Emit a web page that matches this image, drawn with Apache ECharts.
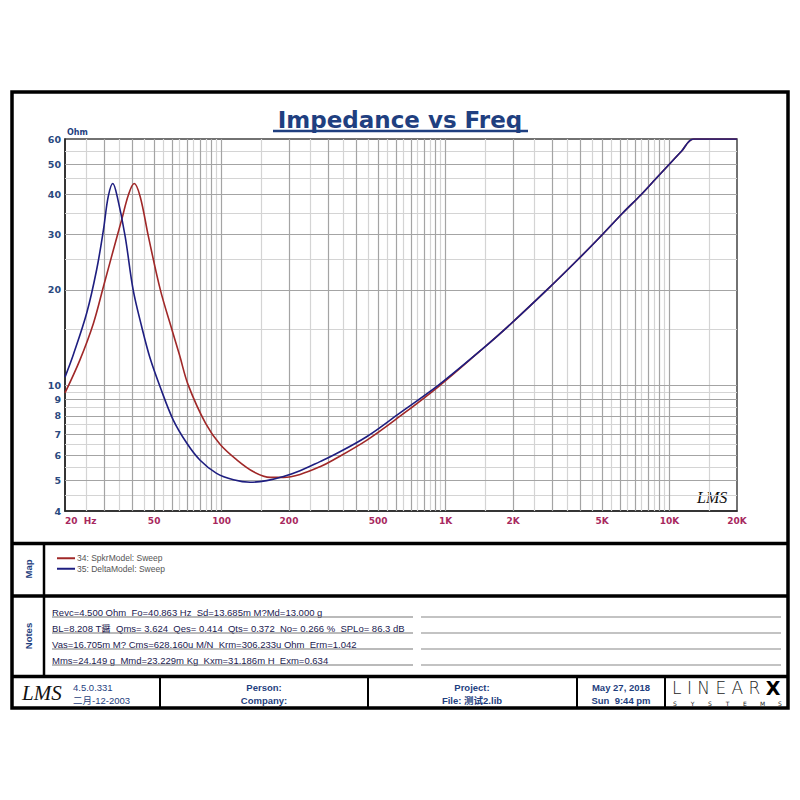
<!DOCTYPE html>
<html><head><meta charset="utf-8">
<script src="https://cdn.jsdelivr.net/npm/echarts@6/dist/echarts.min.js"></script>
<style>html,body{margin:0;padding:0;background:#fff}#c{width:800px;height:800px}</style>
</head><body><div id="c"></div>
<script>
// ---- data ----
const freqSpkr = [20, 23.3, 26.8, 29.7, 32.9, 35.8, 38.4, 40.7, 43.3, 47.1, 53.3, 60, 65, 71, 85, 98.4, 117, 139, 165, 189, 224, 275, 315, 444, 624, 930, 1422, 1838, 2834, 3908, 5030, 6180, 7460, 8700, 10000, 11330, 12800, 20000];
const zSpkr    = [9.45, 12.0, 15.7, 20.5, 26.8, 33.3, 40.0, 43.4, 39.5, 29.6, 20.0, 15.0, 12.4, 10.0, 7.55, 6.5, 5.8, 5.32, 5.11, 5.11, 5.22, 5.52, 5.80, 6.69, 7.96, 9.9, 12.8, 15, 20, 25, 30, 35, 40, 45, 50, 55, 60, 60];
const freqDelta = [20, 21.8, 25.0, 27.7, 29.7, 31.2, 32.7, 34.2, 37.1, 40.3, 44.0, 47.9, 53.1, 60.8, 70, 80, 95, 113, 134, 159, 189, 224, 275, 315, 444, 624, 930, 1422, 1838, 2834, 3908, 5030, 6180, 7460, 8700, 10000, 11330, 12800, 20000];
const zDelta    = [10.6, 12.5, 16.9, 23.2, 31.0, 39.5, 43.4, 39.5, 29.6, 20.0, 15.3, 12.2, 9.9, 7.77, 6.55, 5.8, 5.26, 5.02, 4.93, 4.99, 5.14, 5.36, 5.73, 6.0, 6.87, 8.16, 10.0, 12.8, 15, 20, 25, 30, 35, 40, 45, 50, 55, 60, 60];
const seriesNames = ['34: SpkrModel: Sweep', '35: DeltaModel: Sweep'];

const xTickValues = [20, 50, 100, 200, 500, 1000, 2000, 5000, 10000, 20000];
const xTickLabels = ['20  Hz', '50', '100', '200', '500', '1K', '2K', '5K', '10K', '20K'];
const yTickValues = [4, 5, 6, 7, 8, 9, 10, 20, 30, 40, 50, 60];

const xMajorGrid = [30, 40, 50, 60, 70, 80, 90, 100, 200, 300, 400, 500, 600, 700, 800, 900, 1000, 2000, 3000, 4000, 5000, 6000, 7000, 8000, 9000, 10000];
const xMinorGrid = [25, 35, 45, 55, 65, 75, 85, 95, 150, 250, 350, 450, 550, 650, 750, 850, 950, 1500, 2500, 3500, 4500, 5500, 6500, 7500, 8500, 9500, 15000];
const yMajorGrid = [5, 6, 7, 8, 9, 10, 20, 30, 40, 50];
const yMinorGrid = [4.5, 5.5, 6.5, 7.5, 8.5, 9.5, 15, 25, 35, 45, 55];

const notesLines = [
  'Revc=4.500 Ohm  Fo=40.863 Hz  Sd=13.685m M?Md=13.000 g',
  'BL=8.208 T醤  Qms= 3.624  Qes= 0.414  Qts= 0.372  No= 0.266 %  SPLo= 86.3 dB',
  'Vas=16.705m M? Cms=628.160u M/N  Krm=306.233u Ohm  Erm=1.042',
  'Mms=24.149 g  Mmd=23.229m Kg  Kxm=31.186m H  Exm=0.634'
];
const footerVersion = ['4.5.0.331', '二月-12-2003'];
const footerPerson = ['Person:', 'Company:'];
const footerProject = ['Project:', 'File: 测试2.lib'];
const footerDate = ['May 27, 2018', 'Sun  9:44 pm'];

// ---- build ----
const FONT = '"Liberation Sans", "Noto Sans CJK SC", sans-serif';
const BLUE_TXT = '#1f3f80';
const pairs = (xs, ys) => xs.map((x, i) => [x, ys[i]]);

function gridLines(vals, key, color, w) {
  return vals.map(v => ({ [key]: v, lineStyle: { color: color, width: w, type: 'solid' } }));
}
function nearestLabel(v) {
  let best = 0, bd = Infinity;
  xTickValues.forEach((t, i) => { const d = Math.abs(Math.log(v) - Math.log(t)); if (d < bd) { bd = d; best = i; } });
  return xTickLabels[best];
}

const graphics = [];
graphics.push({ type: 'rect', shape: { x: 12, y: 92, width: 776, height: 616 }, style: { fill: 'none', stroke: '#000', lineWidth: 3.5 }, z: 100 });
[[12, 543.5, 788, 543.5], [12, 596, 788, 596], [12, 676.5, 788, 676.5]].forEach(s =>
  graphics.push({ type: 'line', shape: { x1: s[0], y1: s[1], x2: s[2], y2: s[3] }, style: { stroke: '#000', lineWidth: 3.5 }, z: 100 }));
graphics.push({ type: 'line', shape: { x1: 44, y1: 543, x2: 44, y2: 677 }, style: { stroke: '#000', lineWidth: 2.5 }, z: 100 });
[160, 368, 577, 665].forEach(x =>
  graphics.push({ type: 'line', shape: { x1: x, y1: 677, x2: x, y2: 708 }, style: { stroke: '#000', lineWidth: 2 }, z: 100 }));
graphics.push({ type: 'line', shape: { x1: 273, y1: 131, x2: 528, y2: 131 }, style: { stroke: BLUE_TXT, lineWidth: 2.5 } });
graphics.push({ type: 'text', x: 28, y: 569, rotation: Math.PI / 2, style: { text: 'Map', align: 'center', verticalAlign: 'middle', font: 'bold 9.5px ' + FONT, fill: BLUE_TXT } });
graphics.push({ type: 'text', x: 28, y: 636, rotation: Math.PI / 2, style: { text: 'Notes', align: 'center', verticalAlign: 'middle', font: 'bold 9.5px ' + FONT, fill: BLUE_TXT } });
const noteY = [612, 628.5, 644.5, 660];
const ulY = [617, 633, 649, 665];
notesLines.forEach((t, i) => {
  graphics.push({ type: 'text', x: 52, y: noteY[i], style: { text: t, align: 'left', verticalAlign: 'middle', font: '9.5px ' + FONT, fill: '#1a2050' } });
  graphics.push({ type: 'line', shape: { x1: 52, y1: ulY[i], x2: 413, y2: ulY[i] }, style: { stroke: '#777', lineWidth: 1.2 } });
  graphics.push({ type: 'line', shape: { x1: 421, y1: ulY[i], x2: 781, y2: ulY[i] }, style: { stroke: '#888', lineWidth: 1.2 } });
});
const fy = [687, 700];
footerVersion.forEach((t, i) => graphics.push({ type: 'text', x: 73, y: fy[i], style: { text: t, align: 'left', verticalAlign: 'middle', font: '9.5px ' + FONT, fill: BLUE_TXT } }));
footerPerson.forEach((t, i) => graphics.push({ type: 'text', x: 264, y: fy[i], style: { text: t, align: 'center', verticalAlign: 'middle', font: 'bold 9.5px ' + FONT, fill: BLUE_TXT } }));
footerProject.forEach((t, i) => graphics.push({ type: 'text', x: 472, y: fy[i], style: { text: t, align: 'center', verticalAlign: 'middle', font: 'bold 9.5px ' + FONT, fill: BLUE_TXT } }));
footerDate.forEach((t, i) => graphics.push({ type: 'text', x: 621, y: fy[i], style: { text: t, align: 'center', verticalAlign: 'middle', font: 'bold 9.5px ' + FONT, fill: BLUE_TXT } }));
graphics.push({ type: 'text', x: 22, y: 693, style: { text: 'LMS', align: 'left', verticalAlign: 'middle', font: 'italic 21px "Liberation Serif", serif', fill: '#111' } });
graphics.push({ type: 'text', x: 697, y: 497, style: { text: 'LMS', align: 'left', verticalAlign: 'middle', font: 'italic 16px "Liberation Serif", serif', fill: '#111' } });
graphics.push({ type: 'text', x: 672, y: 688, style: { text: '{a|L I N E A R }{b|X}', align: 'left', verticalAlign: 'middle',
  rich: { a: { font: '200 17px "DejaVu Sans", sans-serif', fill: '#222' }, b: { font: 'bold 19px "DejaVu Sans", sans-serif', fill: '#000' } } } });
'SYSTEMS'.split('').forEach((ch, i) => graphics.push({ type: 'text', x: 675 + i * 17.5, y: 703, style: { text: ch, align: 'center', verticalAlign: 'middle', font: '6px "DejaVu Sans", sans-serif', fill: '#222' } }));

const option = {
  animation: false,
  backgroundColor: '#fff',
  title: { text: 'Impedance vs Freq', left: 'center', top: 103, textStyle: { color: BLUE_TXT, fontSize: 23, fontWeight: 'bold', fontFamily: '"DejaVu Sans", sans-serif' } },
  legend: {
    orient: 'vertical', left: 52, top: 549, itemGap: 2, itemWidth: 18, itemHeight: 2, icon: 'rect',
    data: seriesNames, selectedMode: false,
    textStyle: { fontSize: 8.5, color: '#555', fontFamily: FONT, padding: [0, 0, 0, -3] }
  },
  grid: { left: 65, top: 139, width: 672, height: 372, show: true, borderColor: '#444', borderWidth: 1.5, outerBoundsMode: 'none' },
  xAxis: {
    type: 'log', logBase: 10, min: 20, max: 20000,
    axisLine: { show: true, lineStyle: { color: '#222', width: 1.5 } },
    axisTick: { show: false }, splitLine: { show: false },
    axisLabel: { customValues: xTickValues, formatter: v => nearestLabel(v), color: '#a8285e', fontSize: 9, fontWeight: 'bold', fontFamily: '"DejaVu Sans", sans-serif', margin: 5, alignMinLabel: 'left' }
  },
  yAxis: {
    type: 'log', logBase: 10, min: 4, max: 60,
    name: 'Ohm', nameLocation: 'end', nameGap: 3,
    nameTextStyle: { align: 'left', color: BLUE_TXT, fontSize: 8, fontWeight: 'bold', fontFamily: '"DejaVu Sans", sans-serif', padding: [0, 0, 0, 2] },
    axisLine: { show: true, lineStyle: { color: '#222', width: 1.5 } },
    axisTick: { show: false }, splitLine: { show: false },
    axisLabel: { customValues: yTickValues, formatter: v => String(Math.round(v)), color: '#2b4a80', fontSize: 9.5, fontWeight: 'bold', fontFamily: '"DejaVu Sans", sans-serif', margin: 4 }
  },
  series: [
    { name: 'minor-grid', type: 'line', data: [], z: 1, silent: true,
      markLine: { silent: true, symbol: ['none', 'none'], label: { show: false }, animation: false,
        data: gridLines(xMinorGrid, 'xAxis', '#d4d4d4', 1.2).concat(gridLines(yMinorGrid, 'yAxis', '#d4d4d4', 1.2)) } },
    { name: 'major-grid', type: 'line', data: [], z: 2, silent: true,
      markLine: { silent: true, symbol: ['none', 'none'], label: { show: false }, animation: false,
        data: gridLines(xMajorGrid, 'xAxis', '#a4a4a4', 1.2).concat(gridLines(yMajorGrid, 'yAxis', '#a4a4a4', 1.2)) } },
    { name: seriesNames[0], type: 'line', data: pairs(freqSpkr, zSpkr), z: 5, showSymbol: false, smooth: 0.35,
      lineStyle: { color: '#a02828', width: 1.6 }, itemStyle: { color: '#a02828' } },
    { name: seriesNames[1], type: 'line', data: pairs(freqDelta, zDelta), z: 6, showSymbol: false, smooth: 0.35,
      lineStyle: { color: '#1e1e80', width: 1.6 }, itemStyle: { color: '#1e1e80' } }
  ],
  graphic: { elements: graphics }
};
const chart = echarts.init(document.getElementById('c'), null, { renderer: 'svg' });
chart.setOption(option);
</script></body></html>
